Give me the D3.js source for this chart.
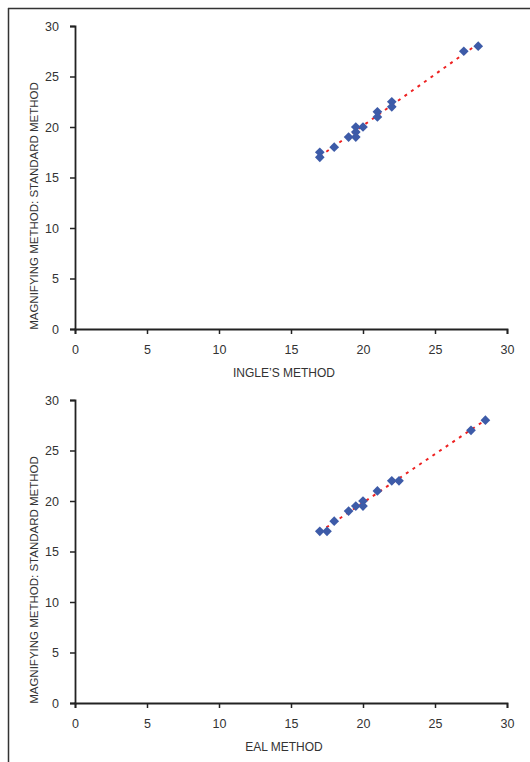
<!DOCTYPE html>
<html>
<head>
<meta charset="utf-8">
<script src="https://cdn.jsdelivr.net/npm/d3@7"></script>
<style>
  body { margin: 0; background: #fff; }
  text { font-family: "Liberation Sans", Arial, sans-serif; fill: #333; }
</style>
</head>
<body>
<div id="chart"></div>
<script>
// top chart: Ingle's method vs standard
var ingleX = [17, 17, 18, 19, 19.5, 19.5, 19.5, 20, 21, 21, 22, 22, 27, 28];
var ingleY = [17.5, 17, 18, 19, 20, 19.5, 19, 20, 21.5, 21, 22.5, 22, 27.5, 28];
// bottom chart: EAL method vs standard
var ealX = [17, 17.5, 18, 19, 19.5, 20, 20, 21, 22, 22.5, 27.5, 28.5];
var ealY = [17, 17, 18, 19, 19.5, 20, 19.5, 21, 22, 22, 27, 28];
var tickVals = [0, 5, 10, 15, 20, 25, 30];
var yTitle = "MAGNIFYING METHOD: STANDARD METHOD";

var W = 530, H = 762;
var svg = d3.select("#chart").append("svg").attr("width", W).attr("height", H);

// frame
svg.append("line").attr("x1", 8).attr("x2", W).attr("y1", 8.5).attr("y2", 8.5)
  .attr("stroke", "#333").attr("stroke-width", 1.5);
svg.append("line").attr("x1", 8.5).attr("x2", 8.5).attr("y1", 8).attr("y2", H)
  .attr("stroke", "#333").attr("stroke-width", 1.5);

function fit(xs, ys) {
  var n = xs.length, mx = d3.mean(xs), my = d3.mean(ys);
  var sxy = 0, sxx = 0;
  for (var i = 0; i < n; i++) {
    sxy += (xs[i] - mx) * (ys[i] - my);
    sxx += (xs[i] - mx) * (xs[i] - mx);
  }
  var b = sxy / sxx;
  return { b: b, a: my - b * mx };
}

function drawScatter(xs, ys, top, bottom, xTitle) {
  var x = d3.scaleLinear([0, 30], [75, 507]);
  var y = d3.scaleLinear([0, 30], [bottom, top]);
  var g = svg.append("g");

  // trend line
  var f = fit(xs, ys);
  var x0 = d3.min(xs), x1 = d3.max(xs);
  g.append("line")
    .attr("x1", x(x0)).attr("y1", y(f.a + f.b * x0))
    .attr("x2", x(x1)).attr("y2", y(f.a + f.b * x1))
    .attr("stroke", "#ee2222").attr("stroke-width", 2)
    .attr("stroke-dasharray", "3,5");

  var pts = xs.map(function (d, i) { return [d, ys[i]]; });
  g.append("g").selectAll("path")
    .data(pts)
    .join("path")
    .attr("d", d3.symbol(d3.symbolDiamond2, 60))
    .attr("transform", function (d) { return "translate(" + x(d[0]) + "," + y(d[1]) + ")"; })
    .attr("fill", "#3d5ba8");

  var yAxis = d3.axisLeft(y).tickValues(tickVals).tickSize(5).tickPadding(11);
  var xAxis = d3.axisBottom(x).tickValues(tickVals).tickSize(5).tickPadding(11);

  var ya = svg.append("g").attr("transform", "translate(75,0)").call(yAxis);
  var xa = svg.append("g").attr("transform", "translate(0," + bottom + ")").call(xAxis);
  [ya, xa].forEach(function (a) {
    a.select(".domain").attr("stroke", "#222").attr("stroke-width", 1.8);
    a.selectAll(".tick line").attr("stroke", "#222").attr("stroke-width", 1.5);
    a.selectAll(".tick text").style("font-size", "12.5px").attr("fill", "#333");
  });

  svg.append("text")
    .attr("x", 284).attr("y", bottom + 48)
    .attr("text-anchor", "middle")
    .style("font-size", "12px")
    .text(xTitle);

  svg.append("text")
    .attr("transform", "translate(38," + (bottom - 123) + ") rotate(-90)")
    .attr("text-anchor", "middle")
    .style("font-size", "11.5px")
    .text(yTitle);
}

drawScatter(ingleX, ingleY, 26, 329, "INGLE\u2019S METHOD");
drawScatter(ealX, ealY, 400, 703, "EAL METHOD");
</script>
</body>
</html>
